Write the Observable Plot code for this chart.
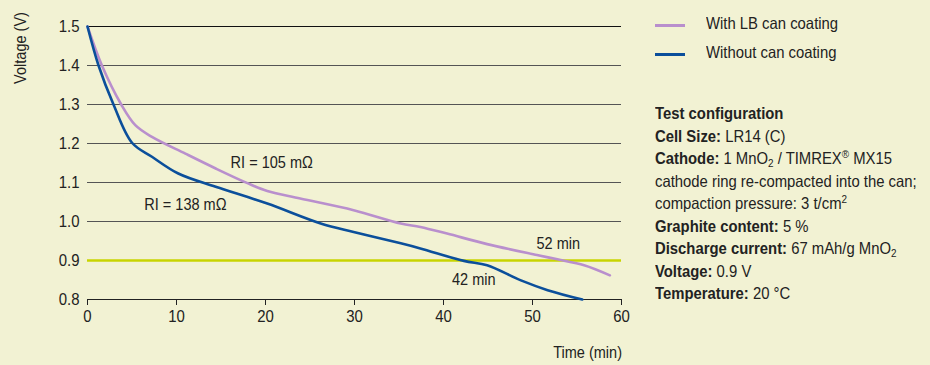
<!DOCTYPE html>
<html>
<head>
<meta charset="utf-8">
<script src="https://cdn.jsdelivr.net/npm/d3@7"></script>
<script src="https://cdn.jsdelivr.net/npm/@observablehq/plot@0.6"></script>
<style>
  html, body { margin: 0; padding: 0; background: #f2f2d3; }
  #wrap { position: relative; width: 930px; height: 365px; background: #f2f2d3;
          font-family: "Liberation Sans", Arial, sans-serif; color: #222; }
  #chart { position: absolute; left: 0; top: 0; }
  .leg { position: absolute; left: 655px; font-size: 16.5px; }
  .leg .sw { position: absolute; left: 0; width: 30px; height: 2.5px; }
  .leg .lt { position: absolute; left: 51px; white-space: nowrap; line-height: 20px;
             transform: scaleX(0.9); transform-origin: 0 50%; }
  #config { position: absolute; left: 655px; top: 102px; font-size: 16.5px; line-height: 22.5px; white-space: nowrap;
            transform: scaleX(0.9); transform-origin: 0 0; }
  #config b { font-weight: bold; }
  #config sub { font-size: 11px; vertical-align: -3px; line-height: 0; }
  #config sup { font-size: 11px; vertical-align: 6px; line-height: 0; }
</style>
</head>
<body>
<div id="wrap">
  <div id="chart"></div>
  <div class="leg" style="top:24px"><div class="sw" style="background:#b98fcd"></div><div class="lt" style="top:-11px">With LB can coating</div></div>
  <div class="leg" style="top:53px"><div class="sw" style="background:#0b4f9b"></div><div class="lt" style="top:-11px">Without can coating</div></div>
  <div id="config">
    <b>Test configuration</b><br>
    <b>Cell Size:</b> LR14 (C)<br>
    <b>Cathode:</b> 1 MnO<sub>2</sub> / TIMREX<sup>®</sup> MX15<br>
    cathode ring re-compacted into the can;<br>
    compaction pressure: 3 t/cm<sup>2</sup><br>
    <b>Graphite content:</b> 5 %<br>
    <b>Discharge current:</b> 67 mAh/g MnO<sub>2</sub><br>
    <b>Voltage:</b> 0.9 V<br>
    <b>Temperature:</b> 20 °C
  </div>
</div>
<script>
// Series: With LB can coating
const withTime    = [0, 1.62, 3.79, 5.37, 7.24, 11.0, 14.4, 17.9, 20.2, 23.9, 29.9, 35.2, 37.4, 40.4, 44.9, 50.5, 52.8, 55.8, 58.7];
const withVolt    = [1.5, 1.4, 1.3, 1.247, 1.217, 1.174, 1.136, 1.099, 1.078, 1.059, 1.029, 0.995, 0.986, 0.969, 0.942, 0.914, 0.903, 0.888, 0.862];
// Series: Without can coating
const withoutTime = [0, 1.24, 2.92, 5.0, 7.24, 10.2, 14.4, 20.2, 26.2, 29.9, 35.2, 37.4, 42.3, 44.9, 48.7, 51.7, 55.6];
const withoutVolt = [1.5, 1.4, 1.3, 1.202, 1.166, 1.123, 1.089, 1.046, 0.995, 0.973, 0.944, 0.931, 0.899, 0.888, 0.849, 0.824, 0.80];

const yTicks = [0.8, 0.9, 1.0, 1.1, 1.2, 1.3, 1.4, 1.5];
const xTicks = [0, 10, 20, 30, 40, 50, 60];
const gridLevels = [1.0, 1.1, 1.2, 1.3, 1.4];
const topLevel = [1.5];
const cutoff = [0.9];

const noteText = ["RI = 105 mΩ", "RI = 138 mΩ", "52 min", "42 min"];
const noteTime = [20.7, 11.0, 52.9, 43.4];
const noteVolt = [1.152, 1.042, 0.944, 0.85];

const withData = withTime.map((t, i) => ({t, v: withVolt[i]}));
const withoutData = withoutTime.map((t, i) => ({t, v: withoutVolt[i]}));
const notes = noteText.map((s, i) => ({s, t: noteTime[i], v: noteVolt[i]}));

const font = '"Liberation Sans", Arial, sans-serif';

const chart = Plot.plot({
  width: 930,
  height: 365,
  marginLeft: 87,
  marginRight: 309,
  marginTop: 26,
  marginBottom: 66,
  style: {background: "transparent", fontFamily: font, fontSize: "17px", color: "#222"},
  x: {domain: [0, 60], ticks: xTicks, tickSize: 6, tickPadding: 4, label: null},
  y: {domain: [0.8, 1.5], ticks: yTicks, tickSize: 0, tickPadding: 8, tickFormat: d3.format(".1f"), label: null},
  marks: [
    Plot.ruleY(gridLevels, {stroke: "#555", strokeWidth: 1.2}),
    Plot.ruleY(topLevel, {stroke: "#111", strokeWidth: 1.2}),
    Plot.ruleY(cutoff, {stroke: "#c8d400", strokeWidth: 2.5}),
    Plot.ruleY([0.8], {stroke: "#222", strokeWidth: 1.2}),
    Plot.axisX({ticks: xTicks, tickSize: 6, tickPadding: 4, stroke: "#222", fontSize: 17, label: null}),
    Plot.axisY({ticks: yTicks, tickSize: 0, tickPadding: 8, tickFormat: d3.format(".1f"), fontSize: 17, label: null}),
    Plot.line(withData, {x: "t", y: "v", stroke: "#b98fcd", strokeWidth: 2.6, curve: "catmull-rom"}),
    Plot.line(withoutData, {x: "t", y: "v", stroke: "#0b4f9b", strokeWidth: 2.6, curve: "catmull-rom"}),
    Plot.text(notes, {x: "t", y: "v", text: "s", fontSize: 16.5, fill: "#222"})
  ]
});
document.getElementById("chart").appendChild(chart);

// Axis titles as SVG text
const svg = d3.select(chart);
svg.append("text").attr("transform", "translate(25.5,48) rotate(-90)")
  .attr("text-anchor", "middle").attr("font-size", 16.5).attr("fill", "#222")
  .attr("font-family", font).text("Voltage (V)");
svg.append("text").attr("transform", "translate(622,358)")
  .attr("text-anchor", "end").attr("font-size", 16.5).attr("fill", "#222")
  .attr("font-family", font).text("Time (min)");

// Condense all SVG text along its baseline (narrow typeface look)
const S = 0.88;
svg.selectAll("text").each(function() {
  const el = this;
  const tr = el.getAttribute("transform") || "";
  if (el.hasAttribute("x")) el.setAttribute("x", (+el.getAttribute("x")) / S);
  el.setAttribute("transform", tr + ` scale(${S},1)`);
});
</script>
</body>
</html>
